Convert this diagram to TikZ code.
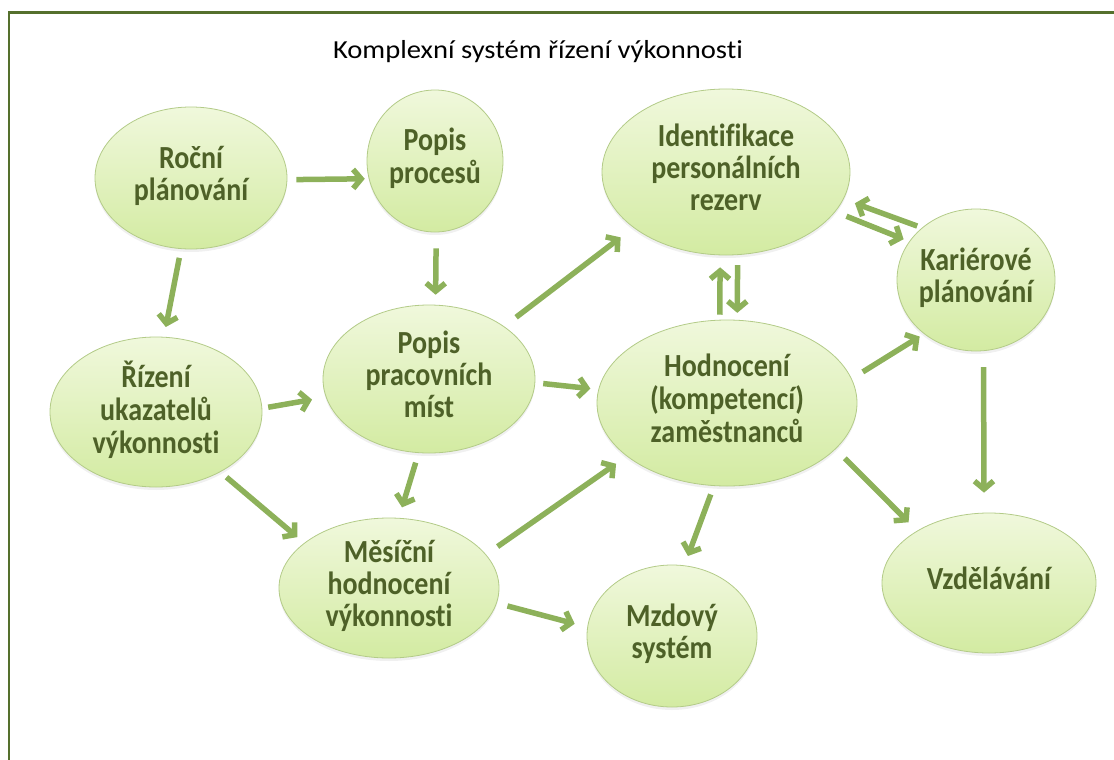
\documentclass[tikz,border=0pt]{standalone}
\usepackage{graphicx}
\usepackage{fontspec}
\setmainfont{Carlito}[Ligatures=NoCommon]
\usetikzlibrary{arrows.meta,shapes.geometric,shadows}

\definecolor{framegreen}{HTML}{55702D}
\definecolor{arrowgreen}{HTML}{8DB15A}
\definecolor{labelgreen}{HTML}{4E6128}
\definecolor{bubbletop}{HTML}{F0F8DC}
\definecolor{bubblebot}{HTML}{D3EBA2}
\definecolor{bubbleline}{HTML}{B3CB88}

% centred multi-line label of zero width, so the ellipse size is set only by the style
\newcommand{\bubbletext}[1]{\makebox[0pt]{\scalebox{1}[1.15]{\begin{tabular}{@{}c@{}}#1\end{tabular}}}}

\tikzset{
  bubble/.style={ellipse, inner sep=0pt, draw=bubbleline, line width=0.8pt,
    top color=bubbletop, bottom color=bubblebot,
    font=\fontsize{28}{28}\selectfont\bfseries, text=labelgreen,
    drop shadow={shadow xshift=0pt, shadow yshift=-3pt, opacity=0.12}},
  flow/.style={draw=arrowgreen, line width=5.5pt,
    -{Straight Barb[length=8pt,width=19pt]}},
}

\begin{document}
\begin{tikzpicture}[x=1pt,y=-1pt]
\useasboundingbox (0,0) rectangle (1114,760);

% frame lines along the top and left side
\draw[framegreen, line width=2.5pt] (9,760) -- (9,12.5) -- (1114,12.5);

\node[font=\fontsize{26}{30}\selectfont, text=black] (title) at (538,52)
  {\scalebox{1.1}[1]{Komplexní systém řízení výkonnosti}};

\node[bubble, minimum width=192pt, minimum height=142pt] (roc) at (191,178) {\bubbletext{Roční\\plánování}};
\node[bubble, minimum width=136pt, minimum height=142pt] (pp)  at (435,161) {\bubbletext{Popis\\procesů}};
\node[bubble, minimum width=248pt, minimum height=166pt] (idr) at (726,172) {\bubbletext{Identifikace\\personálních\\rezerv}};
\node[bubble, minimum width=158pt, minimum height=142pt] (kar) at (976,280) {\bubbletext{Kariérové\\plánování}};
\node[bubble, minimum width=212pt, minimum height=150pt] (riz) at (156,412) {\bubbletext{Řízení\\ukazatelů\\výkonnosti}};
\node[bubble, minimum width=212pt, minimum height=148pt] (ppm) at (429,379) {\bubbletext{Popis\\pracovních\\míst}};
\node[bubble, minimum width=260pt, minimum height=166pt] (hod) at (727,403) {\bubbletext{Hodnocení\\(kompetencí)\\zaměstnanců}};
\node[bubble, minimum width=220pt, minimum height=140pt] (mes) at (389,588) {\bubbletext{Měsíční\\hodnocení\\výkonnosti}};
\node[bubble, minimum width=170pt, minimum height=142pt] (mzd) at (672,636) {\bubbletext{Mzdový\\systém}};
\node[bubble, minimum width=214pt, minimum height=140pt] (vzd) at (989,583) {\bubbletext{Vzdělávání}};

% connectors
\draw[flow, shorten <=9pt,  shorten >=4pt]  (roc.-1)    -- (pp.-165);
\draw[flow, shorten <=9pt,  shorten >=10pt] (roc.-98.5) -- (riz.84);
\draw[flow, shorten <=16pt, shorten >=10pt] (pp.-89.3)  -- (ppm.85.2);
\draw[flow, shorten <=6pt,  shorten >=14pt] (riz.2)     -- (ppm.-170);
\draw[flow, shorten <=15pt, shorten >=16pt] (ppm.35)    -- (idr.-149.5);
\draw[flow, shorten <=8pt,  shorten >=8pt]  (ppm.-2)    -- (hod.174.6);
\draw[flow, shorten <=10pt, shorten >=11pt] (ppm.-98.8) -- (mes.82.3);
\draw[flow, shorten <=8pt,  shorten >=9pt]  (riz.-43.7) -- (mes.152.9);
\draw[flow, shorten <=14pt, shorten >=13pt] (mes.19.1)  -- (hod.-152.1);
\draw[flow, shorten <=11pt, shorten >=13pt] (mes.-8.2)  -- (mzd.174.8);
\draw[flow, shorten <=9pt,  shorten >=10pt] (hod.-99.9) -- (mzd.80.1);
\draw[flow, shorten <=5pt,  shorten >=12pt] (hod.95.8)  -- (idr.-94.8);
\draw[flow, shorten <=10pt, shorten >=7pt]  (idr.-82.6) -- (hod.83);
\draw[flow, shorten <=5pt,  shorten >=12pt] (kar.136.5) -- (idr.-13.1);
\draw[flow, shorten <=12pt, shorten >=6pt]  (idr.-20.1) -- (kar.150.9);
\draw[flow, shorten <=13pt, shorten >=5pt]  (hod.11.1)  -- (kar.-134.5);
\draw[flow, shorten <=16pt, shorten >=20pt] (kar.-84.7) -- (vzd.94.4);
\draw[flow, shorten <=13pt, shorten >=12pt] (hod.-23.6) -- (vzd.144.3);
\end{tikzpicture}
\end{document}
